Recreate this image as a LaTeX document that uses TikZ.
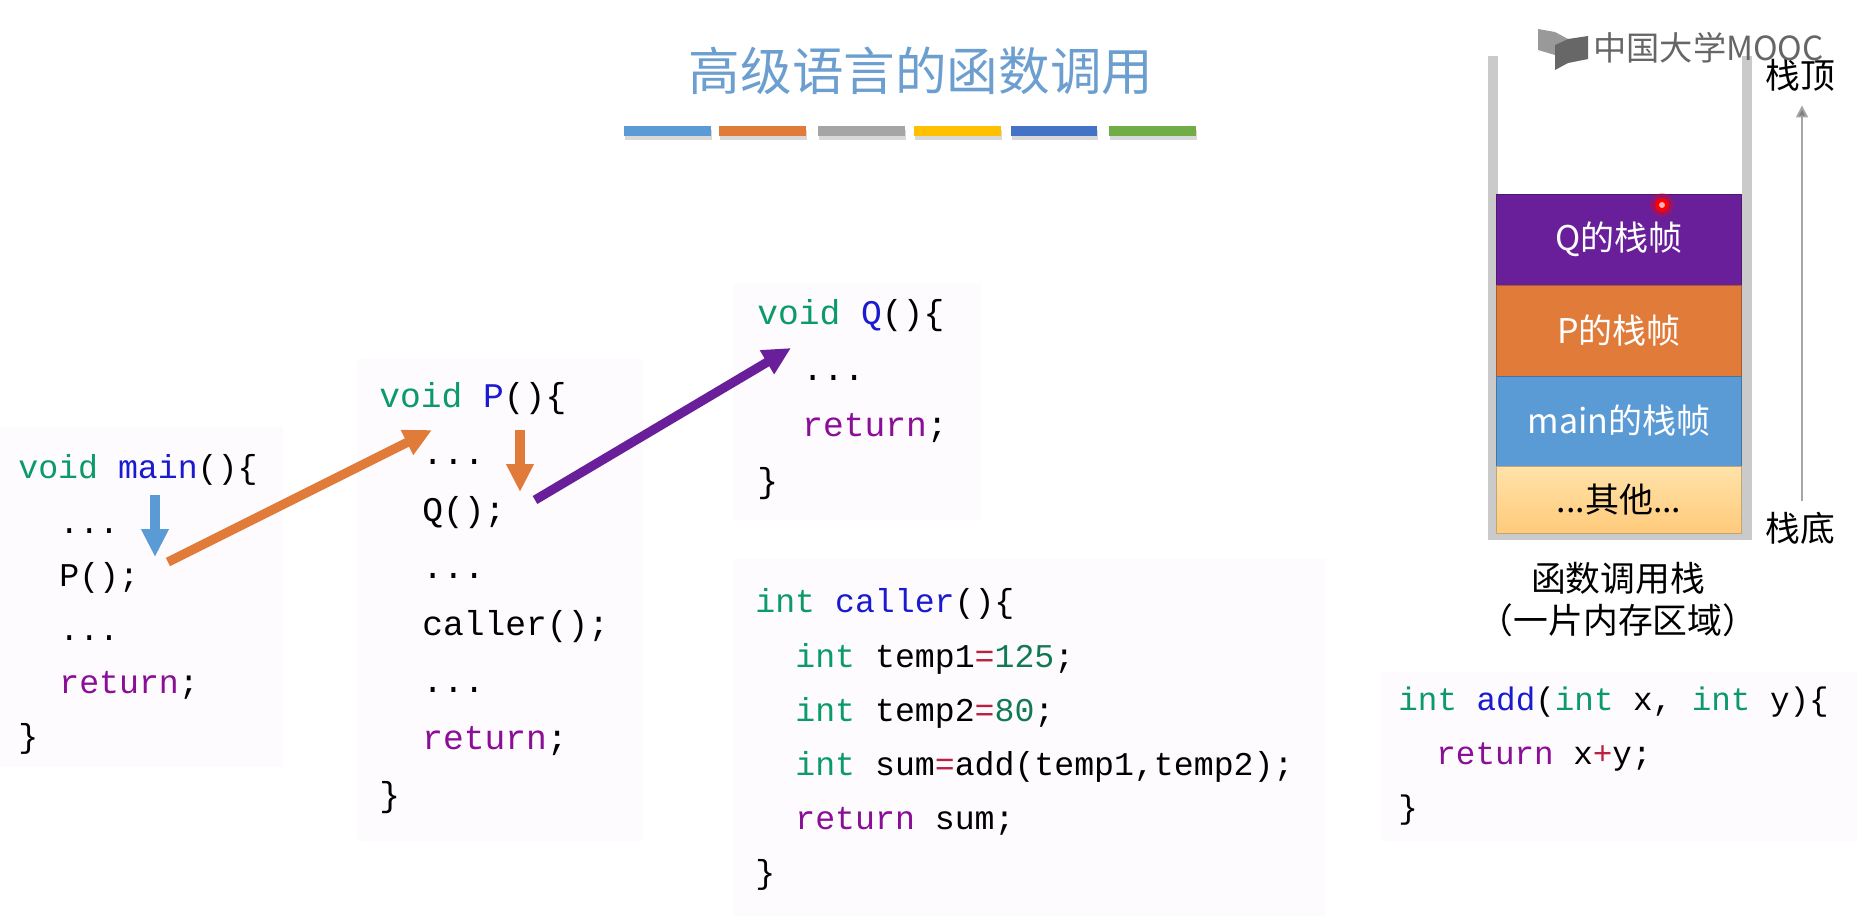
\documentclass[tikz,border=0pt]{standalone}
\usepackage{fontspec}
\usetikzlibrary{arrows.meta,positioning}
\setmainfont{Noto Sans CJK SC}
\setmonofont{Liberation Mono}
\definecolor{kwgreen}{HTML}{0B9A68}
\definecolor{fnblue}{HTML}{1A1ACF}
\definecolor{retpurple}{HTML}{8A0F96}
\definecolor{opred}{HTML}{B8213F}
\definecolor{numgreen}{HTML}{127A52}
\definecolor{codebg}{HTML}{FDFBFE}
\definecolor{titleblue}{HTML}{6C9FCF}
\definecolor{barblue}{HTML}{5B9BD5}
\definecolor{barorange}{HTML}{E07B39}
\definecolor{bargray}{HTML}{A5A5A5}
\definecolor{baryellow}{HTML}{FFC000}
\definecolor{bardark}{HTML}{4472C4}
\definecolor{bargreen}{HTML}{70AD47}
\definecolor{framepurple}{HTML}{6A1F9A}
\definecolor{frameyellow}{HTML}{FFDD9A}
\definecolor{wallgray}{HTML}{CACACA}
\newcommand{\kw}[1]{\textcolor{kwgreen}{#1}}
\newcommand{\fn}[1]{\textcolor{fnblue}{#1}}
\newcommand{\ret}[1]{\textcolor{retpurple}{#1}}
\newcommand{\op}[1]{\textcolor{opred}{#1}}
\newcommand{\num}[1]{\textcolor{numgreen}{#1}}
\begin{document}
\begin{tikzpicture}[x=0.5pt, y=-0.5pt,
    code/.style={anchor=base west, inner sep=0pt, font=\ttfamily\fontsize{16.6}{18}\selectfont},
    bigcode/.style={code, font=\ttfamily\fontsize{17.3}{18}\selectfont},
    addcode/.style={code, font=\ttfamily\fontsize{16.3}{18}\selectfont},
    codebox/.style={fill=codebg, draw=none},
    bar/.style={fill=#1, draw=none},
    barshadow/.style={fill=black!15, draw=none},
    frame/.style={draw=#1!75!black, fill=#1, line width=0.5pt, minimum width=122.5pt, inner sep=0pt, text=white, font=\fontsize{17}{18}\selectfont},
    label/.style={inner sep=0pt, font=\fontsize{17.4}{20}\selectfont},
    thickarrow/.style={draw=#1, line width=4.6pt, -{Triangle[width=13pt, length=14pt, fill=#1]}}
]
    \useasboundingbox (0,0) rectangle (1864,921);
    % Code backgrounds
    \fill[codebox] (0,426) rectangle (283,767);
    \fill[codebox] (357,359) rectangle (642,841);
    \fill[codebox] (734,283) rectangle (981,520);
    \fill[codebox] (734,559) rectangle (1326,916);
    \fill[codebox] (1382,672) rectangle (1857,841);
    % Title
    \node[inner sep=0pt, text=titleblue, font=\fontsize{25.8}{30}\selectfont] (title) at (921,71) {高级语言的函数调用};
    % Bars under title
    \fill[barshadow] (625,130) rectangle (712,140);
    \fill[barshadow] (720,130) rectangle (807,140);
    \fill[barshadow] (819,130) rectangle (906,140);
    \fill[barshadow] (915,130) rectangle (1002,140);
    \fill[barshadow] (1012,130) rectangle (1098,140);
    \fill[barshadow] (1110,130) rectangle (1197,140);
    \fill[bar=barblue] (624,126) rectangle (711,136);
    \fill[bar=barorange] (719,126) rectangle (806,136);
    \fill[bar=bargray] (818,126) rectangle (905,136);
    \fill[bar=baryellow] (914,126) rectangle (1001,136);
    \fill[bar=bardark] (1011,126) rectangle (1097,136);
    \fill[bar=bargreen] (1109,126) rectangle (1196,136);
    % main
    \node[code] (mainhead) at (18,478) {\kw{void} \fn{main}()\{};
    \node[code] (maindotsa) at (59,533) {...};
    \node[code] (maincall) at (59,586) {P();};
    \node[code] (maindotsb) at (59,640) {...};
    \node[code] (mainret) at (59,693) {\ret{return};};
    \node[code] (mainend) at (18,747) {\}};
    % P
    \node[bigcode] (phead) at (379,407) {\kw{void} \fn{P}()\{};
    \node[bigcode] (pdotsa) at (422,464) {...};
    \node[bigcode] (pcall) at (422,521) {Q();};
    \node[bigcode] (pdotsb) at (422,578) {...};
    \node[bigcode] (pcaller) at (422,635) {caller();};
    \node[bigcode] (pdotsc) at (422,692) {...};
    \node[bigcode] (pret) at (422,749) {\ret{return};};
    \node[bigcode] (pend) at (379,806) {\}};
    % Q
    \node[bigcode] (qhead) at (757,324) {\kw{void} \fn{Q}()\{};
    \node[bigcode] (qdots) at (802,380) {...};
    \node[bigcode] (qret) at (802,436) {\ret{return};};
    \node[bigcode] (qend) at (757,492) {\}};
    % caller
    \node[code] (callerhead) at (755,612) {\kw{int} \fn{caller}()\{};
    \node[code] (callera) at (795,667) {\kw{int} temp1\op{=}\num{125};};
    \node[code] (callerb) at (795,721) {\kw{int} temp2\op{=}\num{80};};
    \node[code] (callerc) at (795,775) {\kw{int} sum\op{=}add(temp1,temp2);};
    \node[code] (callerret) at (795,829) {\ret{return} sum;};
    \node[code] (callerend) at (755,883) {\}};
    % add
    \node[addcode] (addhead) at (1398,710) {\kw{int} \fn{add}(\kw{int} x, \kw{int} y)\{};
    \node[addcode] (addret) at (1436,764) {\ret{return} x\op{+}y;};
    \node[addcode] (addend) at (1398,818) {\}};
    % Arrows
    \coordinate (bluefrom) at (155,495);
    \coordinate (blueto) at (155,557);
    \coordinate (orangefrom) at (168,562);
    \coordinate (orangeto) at (432,430);
    \coordinate (smallfrom) at (520,430);
    \coordinate (smallto) at (520,492);
    \coordinate (purplefrom) at (535,500);
    \coordinate (purpleto) at (791,348);
    \draw[thickarrow=barblue] (bluefrom) -- (blueto);
    \draw[thickarrow=barorange] (orangefrom) -- (orangeto);
    \draw[thickarrow=barorange] (smallfrom) -- (smallto);
    \draw[thickarrow=framepurple] (purplefrom) -- (purpleto);
    % Stack walls
    \fill[wallgray] (1488,56) rectangle (1498,540);
    \fill[wallgray] (1742,56) rectangle (1752,540);
    \fill[wallgray] (1488,533) rectangle (1752,540);
    % Stack frames
    \node[frame=framepurple, minimum height=45.5pt] (qframe) at (1619,239.5) {Q的栈帧};
    \node[frame=barorange, minimum height=45.5pt] (pframe) at (1619,330.5) {P的栈帧};
    \node[frame=barblue, minimum height=45pt] (mainframe) at (1619,421) {main的栈帧};
    \node[frame=frameyellow, top color=frameyellow!85!white, bottom color=frameyellow!80!orange, minimum height=33.5pt, text=black] (otherframe) at (1619,499.5) {...其他...};
    % Pointer dot
    \fill[red, opacity=0.3] (1662,205) circle (12);
    \fill[red] (1662,205) circle (7);
    \fill[white!70!red] (1662,205) circle (3);
    % Stack labels
    \node[label] (stacktop) at (1800,75) {栈顶};
    \node[label] (stackbottom) at (1800,528) {栈底};
    \draw[draw=black!35, line width=0.9pt, -{Triangle[width=6pt, length=6pt, fill=black!50]}, shorten <=5pt, shorten >=7pt] ([xshift=1pt]stackbottom.north) -- ([xshift=1pt]stacktop.south);
    \node[label] (stackname) at (1618,578) {函数调用栈};
    \node[label] (stacknote) at (1618,620) {（一片内存区域）};
    % Watermark
    \fill[black!50, opacity=0.8] (1538,29) -- (1555,32) -- (1568,39) -- (1555,45) -- (1555,55) -- (1538,50) -- cycle;
    \fill[black!70, opacity=0.85] (1555,45) -- (1568,39) -- (1588,36) -- (1588,59) -- (1568,63) -- (1555,70) -- cycle;
    \node[inner sep=0pt, anchor=west, text=black!60, font=\fontsize{16.6}{18}\selectfont] (mooc) at (1593,48) {中国大学MOOC};
\end{tikzpicture}
\end{document}
